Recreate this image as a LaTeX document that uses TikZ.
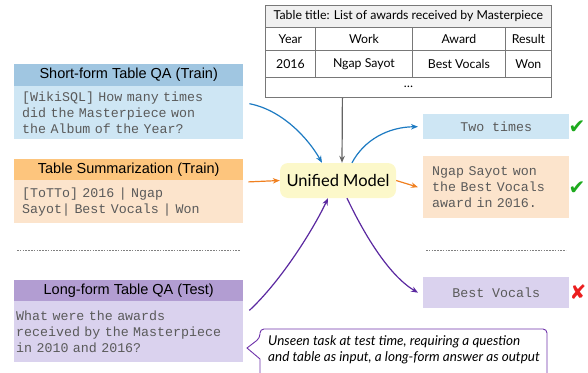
\documentclass[tikz,border=0pt]{standalone}
\usepackage{fontspec}
\setmainfont{Lato}
\newfontfamily\hdrfont{Liberation Sans}
\newfontfamily\monofont{Liberation Mono}
\newfontfamily\symfont{DejaVu Sans}
\usetikzlibrary{arrows.meta,calc}
\definecolor{hblue}{RGB}{160,198,225}
\definecolor{bblue}{RGB}{206,230,244}
\definecolor{horange}{RGB}{253,197,125}
\definecolor{borange}{RGB}{252,228,204}
\definecolor{hpurple}{RGB}{178,157,210}
\definecolor{bpurple}{RGB}{218,210,238}
\definecolor{umfill}{RGB}{252,248,202}
\definecolor{ablue}{RGB}{28,122,194}
\definecolor{aorange}{RGB}{240,128,32}
\definecolor{apurple}{RGB}{90,40,160}
\definecolor{agray}{RGB}{100,100,100}
\definecolor{cpurple}{RGB}{110,50,170}
\definecolor{tborder}{RGB}{120,120,120}
\definecolor{ttitle}{RGB}{240,240,240}
\definecolor{monotext}{RGB}{90,90,90}
\definecolor{okgreen}{RGB}{30,170,30}
\definecolor{badred}{RGB}{235,30,30}
\tikzset{
  hdrbox/.style={anchor=north west, minimum width=229pt, minimum height=22pt, inner sep=0pt,
    font=\hdrfont\fontsize{14.5}{16}\selectfont},
  bodybox/.style={anchor=north west, text width=#1, align=left, inner ysep=0pt,
    font=\monofont\fontsize{13.3}{16}\selectfont, text=monotext},
  cell/.style={draw=tborder, line width=0.8pt, minimum height=#1, inner sep=0pt, anchor=north west,
    font=\fontsize{12.3}{13}\selectfont},
  outbox/.style={anchor=north west, minimum width=146pt, inner ysep=0pt,
    font=\monofont\fontsize{13.3}{16}\selectfont, text=monotext},
  arr/.style={line width=1.2pt, -{Stealth[length=7pt,width=5.5pt]}},
  sep/.style={draw=gray, line width=0.6pt, dash pattern=on 1.6pt off 1.2pt},
  tick/.style={font=\symfont\fontsize{20}{20}\selectfont}
}
\begin{document}
\begin{tikzpicture}[x=1pt,y=-1pt]
\useasboundingbox (0,0) rectangle (588,372);

% left boxes
\node[hdrbox, fill=hblue] (sfh) at (14,64) {Short-form Table QA (Train)};
\node[bodybox=213pt, inner xsep=8pt, fill=bblue, minimum height=53pt] (sfb) at (14,86)
  {[WikiSQL] How many times\\did the Masterpiece won\\the Album of the Year?};
\node[hdrbox, fill=horange] (tsh) at (14,159) {Table Summarization (Train)};
\node[bodybox=213pt, inner xsep=8pt, fill=borange, minimum height=43pt] (tsb) at (14,180)
  {[ToTTo] 2016 | Ngap\\Sayot| Best Vocals | Won};
\coordinate (l1) at (17,250);
\coordinate (l2) at (240,250);
\draw[sep] (l1) -- (l2);
\node[hdrbox, fill=hpurple] (lfh) at (14,280) {Long-form Table QA (Test)};
\node[bodybox=225pt, inner xsep=2pt, fill=bpurple, minimum height=61pt] (lfb) at (14,301)
  {What were the awards\\received by the Masterpiece\\in 2010 and 2016?};

% table
\node[cell=22pt, fill=ttitle, minimum width=286pt] (tt) at (265,5) {Table title: List of awards received by Masterpiece};
\node[cell=23pt, minimum width=50pt] (c11) at (265,27) {Year};
\node[cell=23pt, minimum width=97pt] (c12) at (315,27) {Work};
\node[cell=23pt, minimum width=93pt] (c13) at (412,27) {Award};
\node[cell=23pt, minimum width=46pt] (c14) at (505,27) {Result};
\node[cell=27pt, minimum width=50pt] (c21) at (265,50) {2016};
\node[cell=27pt, minimum width=97pt] (c22) at (315,50) {Ngap Sayot};
\node[cell=27pt, minimum width=93pt] (c23) at (412,50) {Best Vocals};
\node[cell=27pt, minimum width=46pt] (c24) at (505,50) {Won};
\node[cell=20pt, minimum width=286pt] (dots) at (265,77) {\raisebox{2pt}{\dots}};

% unified model
\node[fill=umfill, rounded corners=8pt, minimum width=116pt, minimum height=35pt, inner sep=0pt,
  font=\fontsize{16.5}{18}\selectfont] (um) at (338,180.5) {Unified Model};

% outputs
\node[outbox, fill=bblue, minimum height=25pt] (o1) at (423,114) {Two times};
\node[outbox, fill=borange, minimum height=62pt, text width=128pt, inner xsep=9pt, align=left] (o2) at (423,156)
  {Ngap Sayot won\\the Best Vocals\\award in 2016.};
\coordinate (r1) at (426,250);
\coordinate (r2) at (566,250);
\draw[sep] (r1) -- (r2);
\node[outbox, fill=bpurple, minimum height=31pt] (o3) at (423,277) {Best Vocals};

\node[tick, text=okgreen] (k1) at (577,127) {✔};
\node[tick, text=okgreen] (k2) at (577,188) {✔};
\node[tick, text=badred] (k3) at (578,292) {✘};

% arrows in
\draw[arr, ablue] ([xshift=6pt,yshift=9pt]sfb.east) .. controls (282,110) and (308,138) .. ([xshift=-16pt]um.north);
\draw[arr, aorange] ([xshift=5pt,yshift=-0.5pt]tsh.south east) -- (um.west);
\draw[arr, apurple] ([xshift=6pt,yshift=-8pt]lfh.south east) .. controls (282,280) and (314,228) .. ([xshift=-10pt]um.south);
\draw[arr, agray] ([xshift=-66pt]dots.south) -- ([xshift=4pt]um.north);

% arrows out
\draw[arr, ablue] ([xshift=14pt]um.north) .. controls (364,140) and (388,127) .. ([xshift=-5pt]o1.west);
\draw[arr, aorange] (um.east) -- ([xshift=-5pt]o2.west);
\draw[arr, apurple] ([xshift=9pt]um.south) .. controls (366,238) and (390,276) .. ([xshift=-5pt]o3.west);

% callout
\node[anchor=north west, align=left, inner sep=0pt, font=\itshape\fontsize{13.5}{16}\selectfont] (note) at (268,335)
  {Unseen task at test time, requiring a question\\and table as input, a long-form answer as output};
\draw[cpurple, line width=0.9pt, rounded corners=4pt]
  (260,359) -- (260,400) -- (547,400) -- (547,329) -- (260,329) -- (260,338)
  [sharp corners] -- (247,348) -- (260,359);
\end{tikzpicture}
\end{document}
